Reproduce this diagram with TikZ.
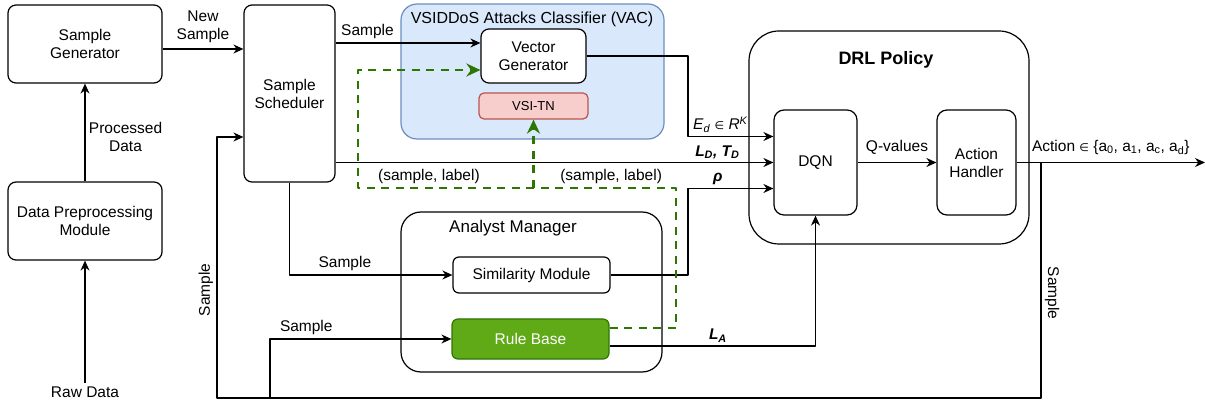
\documentclass[tikz,border=0pt]{standalone}
\usepackage{fontspec}
\setmainfont{Liberation Sans}
\newfontfamily\symfont{DejaVu Sans}
\usetikzlibrary{arrows.meta,calc,positioning}
\definecolor{vacfill}{HTML}{DAE8FC}
\definecolor{vacline}{HTML}{6C8EBF}
\definecolor{tnfill}{HTML}{F8CECC}
\definecolor{tnline}{HTML}{B85450}
\definecolor{rbfill}{HTML}{60A917}
\definecolor{rbline}{HTML}{2D7600}
\definecolor{dashcol}{HTML}{2D7600}
\newcommand{\elem}{{\symfont\fontsize{11}{13}\selectfont ∈}}

\begin{document}
\begin{tikzpicture}[x=1pt, y=-1pt, font=\fontsize{15.5}{18}\selectfont, line join=round, line width=1.2pt,
    block/.style={draw, rounded corners=8pt, align=center, inner sep=0pt},
    group/.style={draw, inner sep=0pt},
    arr/.style={-{Stealth[length=10pt, width=9pt]}},
    feedback/.style={draw=dashcol, line width=2.5pt, dash pattern=on 8pt off 6.5pt, -{Stealth[length=14pt, width=13pt]}}]
    \useasboundingbox (0,0) rectangle (1205,403);

    \node[group, rounded corners=16pt, fill=vacfill, draw=vacline, minimum width=263pt, minimum height=135pt] (vac) at (532.5,71.5) {};
    \node[group, rounded corners=20pt, minimum width=261pt, minimum height=160pt] (am) at (531.5,292) {};
    \node[group, rounded corners=30pt, minimum width=280pt, minimum height=213pt] (drl) at (889,137.5) {};
    \node[font=\fontsize{16}{19}\selectfont] (vactitle) at (532,19) {VSIDDoS Attacks Classifier (VAC)};
    \node[font=\fontsize{17}{20}\selectfont] (amtitle) at (513,228) {Analyst Manager};
    \node[font=\fontsize{18}{22}\selectfont\bfseries] (drltitle) at (886,60) {DRL Policy};

    \node[block, minimum width=154pt, minimum height=78pt] (gen) at (85,44) {Sample\\Generator};
    \node[block, minimum width=154pt, minimum height=78pt] (prep) at (85,221) {Data Preprocessing\\Module};
    \node (raw) at (85,392) {Raw Data};
    \node[block, minimum width=91pt, minimum height=177pt] (sched) at (289.5,93.5) {Sample\\Scheduler};
    \node[block, fill=white, minimum width=105pt, minimum height=54pt] (vg) at (533.5,56) {Vector\\Generator};
    \node[block, rounded corners=5pt, fill=tnfill, draw=tnline, minimum width=109pt, minimum height=26pt, font=\fontsize{13}{15}\selectfont] (tn) at (533.5,106) {VSI-TN};
    \node[block, rounded corners=6pt, minimum width=157pt, minimum height=36pt] (sim) at (531.5,275) {Similarity Module};
    \node[block, rounded corners=6pt, fill=rbfill, draw=rbline, text=white, minimum width=157pt, minimum height=40pt] (rule) at (530.5,339) {Rule Base};
    \node[block, rounded corners=10pt, minimum width=83pt, minimum height=105pt] (dqn) at (815.5,162.5) {DQN};
    \node[block, rounded corners=10pt, minimum width=79pt, minimum height=105pt] (act) at (976.5,162.5) {Action\\Handler};

    \coordinate (out) at (1205,162.5);
    \coordinate (fbr) at (1041,398);
    \coordinate (fbl) at (217,398);
    \coordinate (rbj) at (270,398);
    \coordinate (edx) at (688,100);
    \coordinate (rhox) at (688,230);
    \coordinate (dr) at (676,188);
    \coordinate (dl) at (358,188);
    \coordinate (gout) at ([yshift=-5pt]gen.east);
    \coordinate (vgin) at ([yshift=13pt]vg.west);
    \coordinate (vgfb) at ([yshift=-14pt]vg.west);
    \coordinate (schin) at ([yshift=-43.5pt]sched.west);
    \coordinate (actout) at (act.east -| fbr);
    \coordinate (edin) at ([yshift=26pt]dqn.west);
    \coordinate (rhoin) at ([yshift=-26pt]dqn.west);
    \coordinate (lain) at ([yshift=-7pt]rule.east);
    \coordinate (rbout) at ([yshift=11pt]rule.east);

    \draw[arr] (raw) -- (prep);
    \draw[arr] (prep) -- node[right, pos=0.45, align=center] {Processed\\Data} (gen);
    \draw[arr] (gout) -- node[above=2pt, align=center] {New\\Sample} (gout -| sched.west);
    \draw[arr] (vgin -| sched.east) -- node[above, pos=0.22] {Sample} (vgin);
    \draw[arr] (dqn.west -| sched.east) -- node[above, pos=0.872] {\bfseries\itshape L\textsubscript{D}, T\textsubscript{D}} (dqn.west);
    \draw[arr] (vg.east) -| (edx) |- node[above, pos=0.69] {\textit{E}\textsubscript{\textit{d}} \elem{} \textit{R}\textsuperscript{\textit{K}}} (edin);
    \draw[arr] (sim) -| (rhox) |- node[above, pos=0.674] {\bfseries\itshape ρ} (rhoin);
    \draw[arr] (lain) -| node[above, pos=0.263] {\bfseries\itshape L\textsubscript{A}} (dqn.south);
    \draw[arr] (sched) |- node[above, pos=0.67] {Sample} (sim);
    \draw[arr] (rbj) |- node[above, pos=0.6] {Sample} (rule);
    \draw[arr] (dqn) -- node[above=4pt] {Q-values} (act);
    \draw[arr] (act) -- node[above=4pt] {Action \elem{} \{a\textsubscript{0}, a\textsubscript{1}, a\textsubscript{c}, a\textsubscript{d}\}} (out);
    \draw[arr] (actout) -- node[rotate=-90, above, pos=0.555] {Sample} (fbr) -- (fbl) |- node[rotate=90, above, pos=0.207] {Sample} (schin);

    \draw[feedback] (rbout) -| (dr) -- node[above, pos=0.204] {(sample, label)} node[above, pos=0.777] {(sample, label)} (dl) |- (vgfb);
    \draw[feedback] (dr -| tn.south) -- (tn.south);
\end{tikzpicture}
\end{document}
